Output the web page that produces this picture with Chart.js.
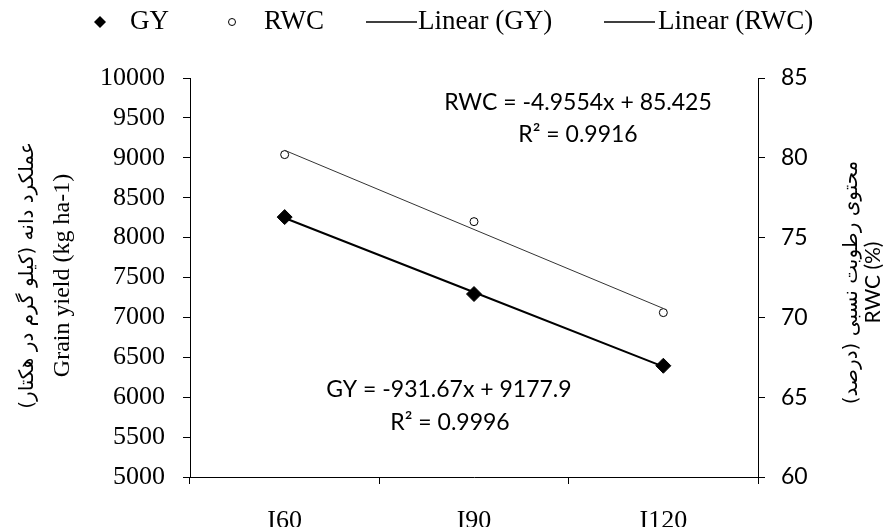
<!DOCTYPE html>
<html>
<head>
<meta charset="utf-8">
<script src="https://cdn.jsdelivr.net/npm/chart.js@4.4.1/dist/chart.umd.min.js"></script>
<style>
  html, body { margin: 0; padding: 0; background: #fff; }
  #wrap { width: 889px; height: 527px; position: relative; }
</style>
</head>
<body>
<div id="wrap"><canvas id="chart"></canvas></div>
<script>
// data
const categories = ["I60", "I90", "I120"];
const gyValues = [8257, 7293, 6394];
const rwcValues = [80.2, 76.0, 70.3];
const gyTrend = [8246, 7315, 6383];
const rwcTrend = [80.47, 75.51, 70.56];

const legendItems = ["GY", "RWC", "Linear (GY)", "Linear (RWC)"];
const gyEquation = ["GY = -931.67x + 9177.9", "R² = 0.9996"];
const rwcEquation = ["RWC = -4.9554x + 85.425", "R² = 0.9916"];
const leftTitle = ["عملکرد دانه (کیلو گرم در هکتار)", "Grain yield (kg ha-1)"];
const rightTitle = ["محتوی رطوبت نسبی (درصد)", "RWC (%)"];

const SERIF = "'Liberation Serif', 'Times New Roman', serif";
const SANS = "Lato, 'Liberation Sans', sans-serif";
const ARABIC = "'DejaVu Sans', sans-serif";

function rotatedText(ctx, text, x, y, font, rtl) {
  ctx.save();
  ctx.translate(x, y);
  ctx.rotate(-Math.PI / 2);
  ctx.font = font;
  ctx.direction = rtl ? "rtl" : "ltr";
  ctx.textAlign = "center";
  ctx.textBaseline = "middle";
  ctx.fillStyle = "#000";
  ctx.fillText(text, 0, 0);
  ctx.restore();
}

const extrasPlugin = {
  id: "extras",
  afterDraw(chart) {
    const ctx = chart.ctx;
    const area = chart.chartArea;
    const midY = (area.top + area.bottom) / 2;

    // axis titles, both read bottom to top
    rotatedText(ctx, leftTitle[0], 28, midY - 2, "20px " + ARABIC, true);
    rotatedText(ctx, leftTitle[1], 63, midY - 2, "24px " + SERIF, false);
    rotatedText(ctx, rightTitle[0], 852, midY + 5, "20px " + ARABIC, true);
    rotatedText(ctx, rightTitle[1], 873, midY + 5, "21px " + SANS, false);

    // regression equations
    ctx.save();
    ctx.font = "23px " + SANS;
    ctx.fillStyle = "#000";
    ctx.textAlign = "center";
    ctx.textBaseline = "middle";
    ctx.fillText(rwcEquation[0], 578, 103);
    ctx.fillText(rwcEquation[1], 578, 135);
    ctx.fillText(gyEquation[0], 449, 390);
    ctx.fillText(gyEquation[1], 450, 423);
    ctx.restore();

    // legend
    const ly = 22;
    ctx.save();
    ctx.fillStyle = "#000";
    ctx.strokeStyle = "#000";
    ctx.beginPath();
    ctx.moveTo(100, ly - 6);
    ctx.lineTo(106, ly);
    ctx.lineTo(100, ly + 6);
    ctx.lineTo(94, ly);
    ctx.closePath();
    ctx.fill();
    ctx.lineWidth = 1;
    ctx.beginPath();
    ctx.arc(232, ly, 3.5, 0, Math.PI * 2);
    ctx.stroke();
    ctx.lineWidth = 1.5;
    ctx.beginPath();
    ctx.moveTo(366, ly);
    ctx.lineTo(417, ly);
    ctx.moveTo(604, ly);
    ctx.lineTo(655, ly);
    ctx.stroke();
    ctx.font = "27px " + SERIF;
    ctx.textBaseline = "middle";
    ctx.textAlign = "left";
    ctx.fillText(legendItems[0], 130, ly);
    ctx.fillText(legendItems[1], 264, ly);
    ctx.fillText(legendItems[2], 418, ly);
    ctx.fillText(legendItems[3], 658, ly);
    ctx.restore();
  },
};

new Chart(document.getElementById("chart"), {
  type: "line",
  data: {
    labels: categories,
    datasets: [
      {
        label: "GY",
        data: gyValues,
        yAxisID: "y",
        showLine: false,
        pointStyle: "rectRot",
        pointRadius: 7.5,
        pointBackgroundColor: "#000",
        pointBorderColor: "#000",
        pointBorderWidth: 1,
        order: 0,
      },
      {
        label: "RWC",
        data: rwcValues,
        yAxisID: "y1",
        showLine: false,
        pointStyle: "circle",
        pointRadius: 4,
        pointBackgroundColor: "#fff",
        pointBorderColor: "#000",
        pointBorderWidth: 1,
        order: 0,
      },
      {
        label: "Linear (GY)",
        data: gyTrend,
        yAxisID: "y",
        borderColor: "#000",
        borderWidth: 2,
        pointRadius: 0,
        tension: 0,
        order: 1,
      },
      {
        label: "Linear (RWC)",
        data: rwcTrend,
        yAxisID: "y1",
        borderColor: "#333",
        borderWidth: 1,
        pointRadius: 0,
        tension: 0,
        order: 1,
      },
    ],
  },
  options: {
    responsive: true,
    maintainAspectRatio: false,
    animation: false,
    layout: { padding: { top: 78, left: 0, right: 0, bottom: 0 } },
    plugins: {
      legend: { display: false },
      tooltip: { enabled: false },
    },
    scales: {
      x: {
        offset: true,
        grid: { offset: true, drawOnChartArea: false, drawTicks: true, tickLength: 7, color: "#000" },
        border: { display: true, color: "#000", width: 1 },
        ticks: { color: "#000", padding: 22, font: { family: SERIF, size: 26 } },
        afterFit: (scale) => { scale.height = 50; },
      },
      y: {
        position: "left",
        min: 5000,
        max: 10000,
        grid: { drawOnChartArea: false, drawTicks: true, tickLength: 7, color: "#000" },
        border: { display: true, color: "#000", width: 1 },
        ticks: {
          stepSize: 500,
          color: "#000",
          padding: 18,
          font: { family: SERIF, size: 26 },
          callback: (value) => String(value),
        },
        afterFit: (scale) => { scale.width = 190; },
      },
      y1: {
        position: "right",
        min: 60,
        max: 85,
        grid: { drawOnChartArea: false, drawTicks: true, tickLength: 7, color: "#000" },
        border: { display: true, color: "#000", width: 1 },
        ticks: { stepSize: 5, color: "#000", padding: 16, font: { family: SANS, size: 23 } },
        afterFit: (scale) => { scale.width = 131; },
      },
    },
  },
  plugins: [extrasPlugin],
});
</script>
</body>
</html>
